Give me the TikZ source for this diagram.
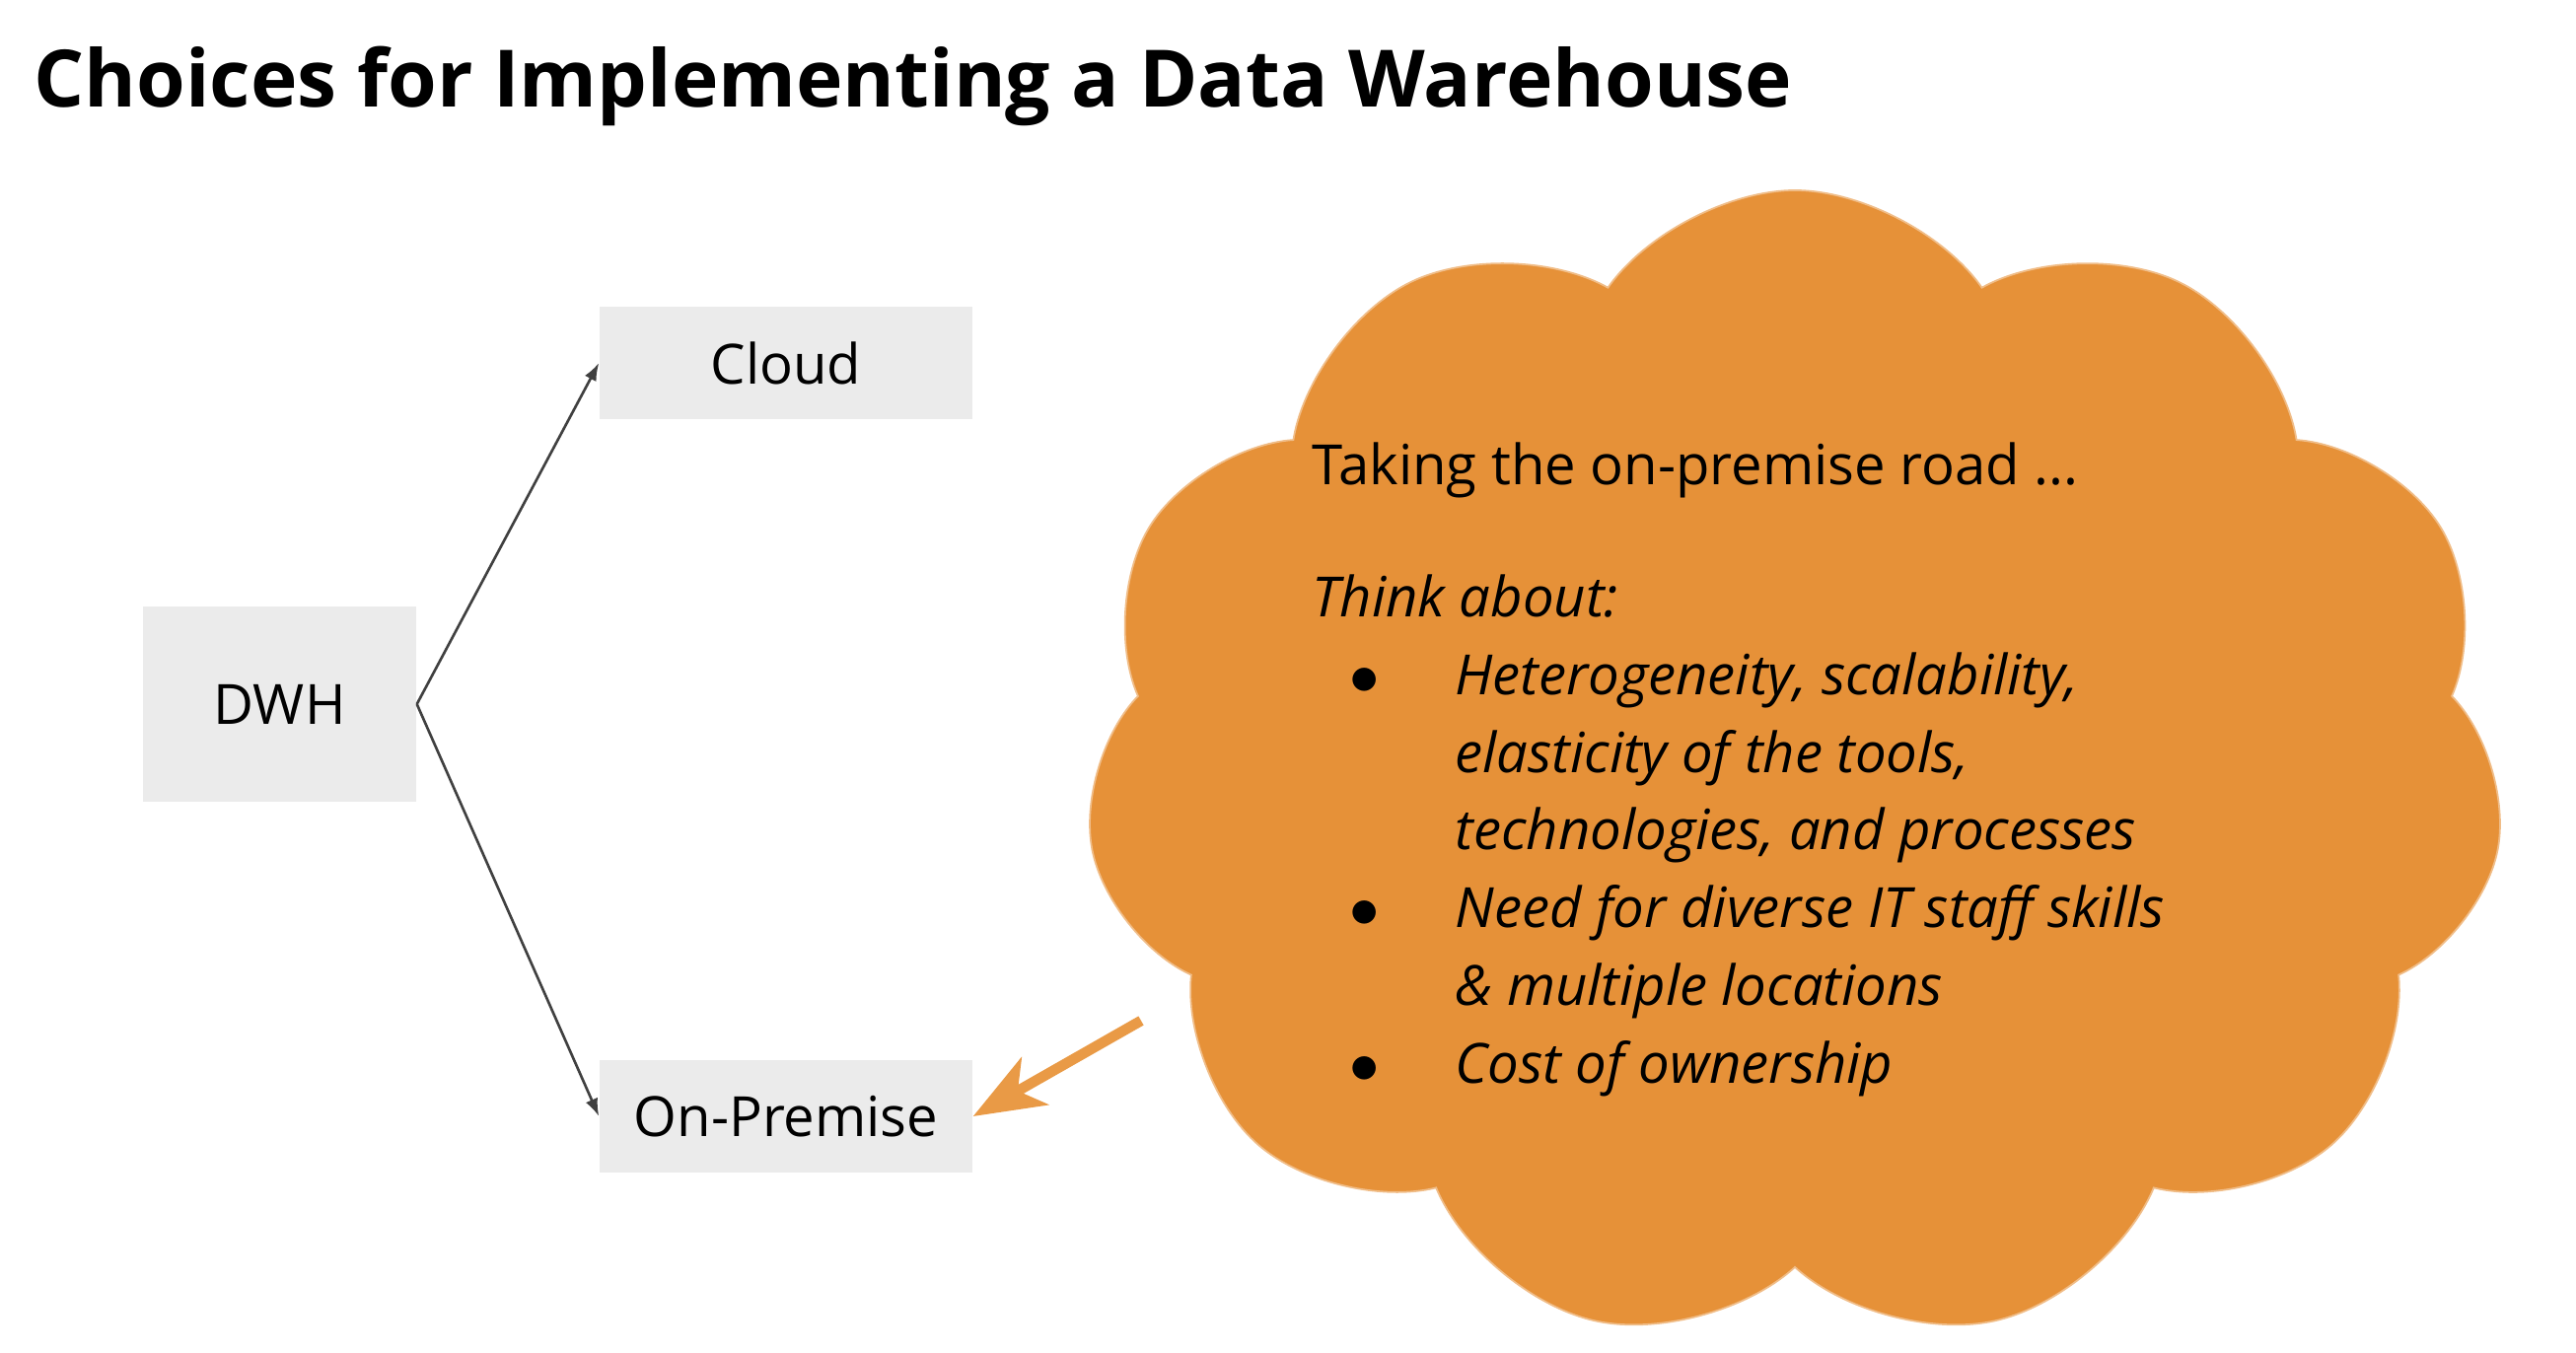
\documentclass[tikz,border=0pt]{standalone}
\usepackage{fontspec}
\setmainfont{Open Sans}
\usetikzlibrary{shapes,arrows.meta,positioning}
\definecolor{boxgray}{HTML}{EBEBEB}
\definecolor{cloudorange}{HTML}{E69138}
\definecolor{pointerorange}{HTML}{E99A46}
\definecolor{linegray}{HTML}{404040}

\begin{document}
\begin{tikzpicture}[
    choice/.style={rectangle, fill=boxgray, text centered, minimum width=3.78cm, minimum height=1.14cm, font=\fontsize{16}{19}\selectfont},
    root/.style={choice, minimum width=2.77cm, minimum height=1.98cm},
    bubble/.style={cloud, cloud puffs=11, cloud puff arc=110, fill=cloudorange, draw=cloudorange!60!white, line width=0.5pt, minimum width=14.4cm, minimum height=11.7cm, aspect=1.24},
    link/.style={-{Latex[length=0.18cm,width=0.13cm]}, draw=linegray, line width=0.75pt},
    pointer/.style={-{Stealth[length=0.72cm,width=0.55cm,inset=0.2cm]}, draw=pointerorange, line width=3pt},
    notes/.style={font=\fontsize{16}{22.4}\selectfont, inner sep=0pt}
]
\useasboundingbox (0,0) rectangle (26.12,-13.72);

% Title
\node[anchor=base west, inner sep=0pt, font=\fontsize{22.85}{28}\selectfont\bfseries] at (0.34,-1.085) (title) {Choices for Implementing a Data Warehouse};

% Boxes
\node[root] at (2.835,-7.14) (dwh) {DWH};
\node[choice] at (7.97,-3.68) (cloud) {Cloud};
\node[choice] at (7.97,-11.32) (onprem) {On-Premise};

% Arrows
\draw[link] (dwh.east) -- (cloud.west);
\draw[link] (dwh.east) -- (onprem.west);

% Thought cloud
\node[bubble] at (18.2,-7.78) (thought) {};
\node[notes, anchor=base west] at (13.30,-4.92) (list) {%
\begin{tabular}[t]{@{}p{1.45cm}@{}l@{}}
\multicolumn{2}{@{}l@{}}{Taking the on-premise road ...}\\[0.55cm]
\multicolumn{2}{@{}l@{}}{\itshape Think about:}\\
\hspace*{0.38cm}$\bullet$ & \itshape Heterogeneity, scalability,\\
 & \itshape elasticity of the tools,\\
 & \itshape technologies, and processes\\
\hspace*{0.38cm}$\bullet$ & \itshape Need for diverse IT staff skills\\
 & \itshape \& multiple locations\\
\hspace*{0.38cm}$\bullet$ & \itshape Cost of ownership
\end{tabular}};

% Pointer
\coordinate (tail) at (11.57,-10.35);
\draw[pointer] (tail) -- (onprem.east);
\end{tikzpicture}
\end{document}
